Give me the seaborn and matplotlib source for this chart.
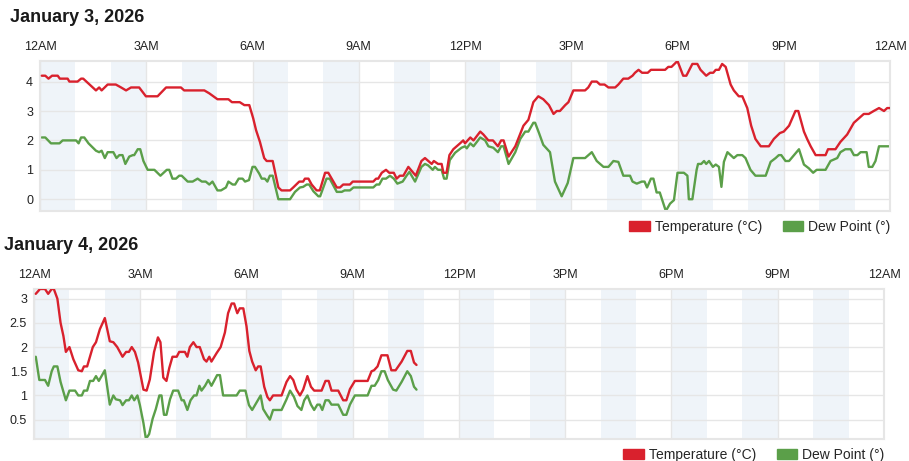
import pandas as pd
import matplotlib
matplotlib.use("Agg")
import matplotlib.pyplot as plt
from matplotlib.patches import Patch
import seaborn as sns

# January 3 - temperature (hour of day, °C)
jan3_temp_hours = [0.05, 0.15, 0.24, 0.34, 0.5, 0.56, 0.78, 0.83, 1.06, 1.16, 1.22, 1.58, 1.67, 1.74, 1.91, 2.14,
                   2.29, 2.43, 2.57, 2.8, 2.99, 3.32, 3.56, 3.98, 4.07, 4.64, 4.78, 5.01, 5.32, 5.42, 5.64, 5.77,
                   5.91, 6.02, 6.1, 6.21, 6.33, 6.4, 6.57, 6.73, 6.82, 7.06, 7.15, 7.32, 7.43, 7.48, 7.58, 7.67,
                   7.81, 7.9, 8.05, 8.14, 8.38, 8.47, 8.56, 8.75, 8.83, 9.41, 9.49, 9.55, 9.65, 9.77, 9.86, 9.99,
                   10.07, 10.16, 10.26, 10.4, 10.54, 10.61, 10.77, 10.87, 11.06, 11.12, 11.24, 11.34, 11.39, 11.48,
                   11.56, 11.67, 11.86, 11.95, 12.0, 12.15, 12.24, 12.43, 12.52, 12.66, 12.79, 12.93, 13.02, 13.09,
                   13.23, 13.42, 13.65, 13.79, 13.93, 14.07, 14.21, 14.37, 14.5, 14.59, 14.68, 14.83, 14.92, 15.06,
                   15.39, 15.48, 15.58, 15.72, 15.81, 15.94, 16.05, 16.24, 16.33, 16.47, 16.61, 16.73, 16.8, 16.9,
                   17.0, 17.16, 17.25, 17.65, 17.74, 17.83, 18.0, 18.16, 18.25, 18.42, 18.56, 18.65, 18.81, 18.92,
                   19.01, 19.08, 19.17, 19.26, 19.36, 19.5, 19.59, 19.73, 19.83, 19.97, 20.08, 20.2, 20.35, 20.58,
                   20.72, 20.89, 21.0, 21.15, 21.33, 21.41, 21.57, 21.66, 21.76, 21.9, 22.18, 22.25, 22.46, 22.6,
                   22.79, 22.98, 23.26, 23.4, 23.54, 23.69, 23.83, 23.92, 24.0]
jan3_temp = [4.2, 4.2, 4.1, 4.2, 4.2, 4.1, 4.1, 4.0, 4.0, 4.1, 4.1, 3.7, 3.8, 3.7, 3.9, 3.9,
             3.8, 3.7, 3.8, 3.8, 3.5, 3.5, 3.8, 3.8, 3.7, 3.7, 3.6, 3.4, 3.4, 3.3, 3.3, 3.2,
             3.2, 2.75, 2.35, 1.95, 1.4, 1.3, 1.3, 0.4, 0.3, 0.3, 0.4, 0.6, 0.6, 0.7, 0.7, 0.5,
             0.3, 0.3, 0.9, 0.9, 0.4, 0.4, 0.5, 0.5, 0.6, 0.6, 0.7, 0.7, 0.9, 1.0, 0.9, 0.9,
             0.7, 0.8, 0.8, 1.1, 0.9, 0.8, 1.3, 1.4, 1.2, 1.3, 1.2, 1.2, 0.9, 0.9,
             1.5, 1.7, 1.9, 2.0, 1.9, 2.1, 2.0, 2.3, 2.2, 2.0, 2.0, 1.8, 2.0, 2.0,
             1.45, 1.8, 2.5, 2.7, 3.3, 3.5, 3.4, 3.2, 2.9, 3.0, 3.0, 3.2, 3.3, 3.7,
             3.7, 3.8, 4.0, 4.0, 3.9, 3.9, 3.8, 3.8, 3.9, 4.1, 4.1, 4.2, 4.3, 4.4,
             4.3, 4.3, 4.4, 4.4, 4.5, 4.5, 4.7, 4.2, 4.2, 4.6, 4.6, 4.4, 4.2, 4.3,
             4.3, 4.4, 4.4, 4.6, 4.5, 3.9, 3.7, 3.5, 3.5, 3.1, 2.5, 2.05, 1.8, 1.8,
             2.05, 2.25, 2.3, 2.5, 3.0, 3.0, 2.3, 2.05, 1.8, 1.5, 1.5, 1.7, 1.7, 1.95,
             2.2, 2.6, 2.9, 2.9, 3.0, 3.1, 3.0, 3.1, 3.1]

# January 3 - dew point
jan3_dew_hours = [0.05, 0.15, 0.31, 0.55, 0.64, 1.02, 1.09, 1.16, 1.25, 1.37, 1.58, 1.67, 1.74, 1.83, 1.91, 2.07,
                  2.16, 2.24, 2.33, 2.41, 2.52, 2.62, 2.66, 2.76, 2.83, 2.92, 3.04, 3.23, 3.4, 3.58, 3.65, 3.74,
                  3.84, 3.93, 4.0, 4.17, 4.31, 4.45, 4.57, 4.68, 4.78, 4.87, 5.01, 5.11, 5.25, 5.32, 5.44, 5.51,
                  5.61, 5.72, 5.79, 5.9, 6.0, 6.07, 6.19, 6.26, 6.35, 6.42, 6.49, 6.57, 6.73, 7.06, 7.2, 7.34,
                  7.43, 7.53, 7.6, 7.72, 7.86, 7.91, 8.09, 8.18, 8.38, 8.52, 8.6, 8.75, 8.85, 9.41, 9.5, 9.58,
                  9.67, 9.77, 9.88, 9.99, 10.09, 10.24, 10.35, 10.43, 10.59, 10.77, 10.87, 10.96, 11.09, 11.15,
                  11.24, 11.34, 11.41, 11.48, 11.57, 11.72, 11.9, 12.0, 12.05, 12.15, 12.24, 12.43, 12.57, 12.66,
                  12.8, 12.93, 13.02, 13.09, 13.23, 13.42, 13.56, 13.7, 13.79, 13.93, 13.98, 14.09, 14.21, 14.4,
                  14.54, 14.73, 14.9, 15.06, 15.39, 15.58, 15.72, 15.91, 16.05, 16.19, 16.33, 16.47, 16.66, 16.73,
                  16.85, 16.99, 17.07, 17.14, 17.25, 17.32, 17.41, 17.5, 17.67, 17.79, 17.9, 18.0, 18.18, 18.28,
                  18.32, 18.42, 18.54, 18.58, 18.67, 18.75, 18.81, 18.89, 19.0, 19.08, 19.17, 19.24, 19.31, 19.41,
                  19.5, 19.59, 19.69, 19.83, 19.92, 20.06, 20.2, 20.49, 20.63, 20.77, 20.86, 20.93, 21.05, 21.15,
                  21.43, 21.57, 21.71, 21.83, 21.93, 22.18, 22.32, 22.51, 22.6, 22.74, 22.89, 22.98, 23.08, 23.17,
                  23.34, 23.4, 23.5, 23.59, 23.69, 24.0]
jan3_dew = [2.1, 2.1, 1.9, 1.9, 2.0, 2.0, 1.9, 2.1, 2.1, 1.9, 1.65, 1.6, 1.65, 1.4, 1.6, 1.6,
            1.4, 1.5, 1.5, 1.2, 1.45, 1.5, 1.5, 1.7, 1.7, 1.3, 1.0, 1.0, 0.8, 1.0, 1.0, 0.7,
            0.7, 0.8, 0.8, 0.6, 0.6, 0.7, 0.6, 0.6, 0.5, 0.6, 0.3, 0.3, 0.4, 0.6, 0.5, 0.5,
            0.7, 0.7, 0.6, 0.65, 1.1, 1.1, 0.87, 0.7, 0.7, 0.6, 0.8, 0.8, 0.0, 0.0, 0.25, 0.4,
            0.42, 0.5, 0.5, 0.27, 0.1, 0.1, 0.7, 0.7, 0.25, 0.25, 0.3, 0.3, 0.4, 0.4, 0.5, 0.5,
            0.7, 0.7, 0.8, 0.7, 0.53, 0.6, 0.8, 0.93, 0.6, 1.1, 1.2, 1.15, 1.0, 1.1,
            1.0, 1.0, 0.7, 0.7, 1.33, 1.58, 1.75, 1.8, 1.73, 1.9, 1.8, 2.1, 2.0, 1.8,
            1.75, 1.6, 1.8, 1.8, 1.2, 1.6, 2.05, 2.3, 2.3, 2.6, 2.6, 2.25, 1.85, 1.6,
            0.6, 0.1, 0.55, 1.4, 1.4, 1.6, 1.3, 1.1, 1.1, 1.3, 1.27, 0.8, 0.8, 0.6,
            0.53, 0.6, 0.6, 0.4, 0.7, 0.7, 0.23, 0.23, -0.4, -0.15, -0.03, 0.9, 0.9, 0.8,
            0.0, 0.0, 1.0, 1.2, 1.2, 1.3, 1.2, 1.3, 1.1, 1.18, 1.1, 0.42, 1.27, 1.6,
            1.5, 1.4, 1.5, 1.5, 1.4, 1.0, 0.8, 0.8, 1.27, 1.4, 1.5, 1.5, 1.3, 1.3,
            1.7, 1.18, 1.05, 0.9, 1.0, 1.0, 1.3, 1.4, 1.6, 1.7, 1.7, 1.5, 1.5, 1.6,
            1.6, 1.1, 1.1, 1.3, 1.8, 1.8]

# January 4 - temperature
jan4_temp_hours = [0.05, 0.17, 0.31, 0.4, 0.5, 0.56, 0.66, 0.75, 0.83, 0.9, 1.0, 1.11, 1.25, 1.35, 1.41, 1.5,
                   1.66, 1.75, 1.86, 1.94, 2.0, 2.14, 2.24, 2.35, 2.5, 2.6, 2.68, 2.76, 2.85, 2.94, 3.09, 3.18,
                   3.27, 3.39, 3.5, 3.57, 3.65, 3.74, 3.82, 3.91, 4.03, 4.1, 4.26, 4.33, 4.4, 4.5, 4.59, 4.68,
                   4.8, 4.87, 4.95, 5.01, 5.16, 5.27, 5.39, 5.48, 5.58, 5.65, 5.74, 5.81, 5.91, 6.0, 6.08, 6.16,
                   6.26, 6.33, 6.4, 6.5, 6.59, 6.66, 6.75, 6.99, 7.13, 7.23, 7.32, 7.41, 7.51, 7.6, 7.72, 7.82,
                   7.91, 8.12, 8.23, 8.32, 8.4, 8.59, 8.73, 8.82, 8.92, 9.06, 9.42, 9.53, 9.6, 9.7, 9.81, 9.98,
                   10.09, 10.21, 10.38, 10.54, 10.64, 10.73, 10.8]
jan4_temp = [3.1, 3.2, 3.2, 3.1, 3.2, 3.2, 3.0, 2.5, 2.23, 1.9, 2.0, 1.75, 1.52, 1.5, 1.6, 1.6,
             2.0, 2.1, 2.37, 2.5, 2.6, 2.12, 2.1, 2.0, 1.8, 1.9, 1.9, 2.0, 1.9, 1.68, 1.12, 1.1,
             1.33, 1.9, 2.2, 2.1, 1.37, 1.3, 1.57, 1.8, 1.8, 1.9, 1.9, 1.8, 2.0, 2.1, 2.0, 2.0,
             1.75, 1.7, 1.8, 1.7, 1.88, 2.0, 2.3, 2.7, 2.9, 2.9, 2.7, 2.8, 2.8, 2.43, 1.92, 1.7,
             1.52, 1.6, 1.6, 1.18, 0.97, 0.9, 1.0, 1.0, 1.28, 1.4, 1.32, 1.12, 1.0, 1.12, 1.4, 1.18,
             1.1, 1.1, 1.3, 1.3, 1.1, 1.1, 0.9, 0.9, 1.13, 1.3, 1.3, 1.5, 1.52, 1.6, 1.83, 1.83,
             1.52, 1.52, 1.7, 1.92, 1.92, 1.68, 1.63]

# January 4 - dew point
jan4_dew_hours = [0.05, 0.15, 0.31, 0.4, 0.5, 0.56, 0.66, 0.75, 0.9, 1.0, 1.16, 1.25, 1.35, 1.41, 1.5, 1.58,
                  1.67, 1.75, 1.83, 2.0, 2.14, 2.24, 2.31, 2.43, 2.5, 2.6, 2.68, 2.76, 2.83, 2.92, 2.99, 3.09,
                  3.16, 3.25, 3.35, 3.44, 3.54, 3.6, 3.67, 3.74, 3.84, 3.93, 4.07, 4.17, 4.23, 4.33, 4.42, 4.52,
                  4.59, 4.67, 4.73, 4.83, 4.92, 5.01, 5.17, 5.25, 5.34, 5.72, 5.81, 5.97, 6.07, 6.16, 6.4, 6.47,
                  6.57, 6.66, 6.75, 6.99, 7.13, 7.23, 7.34, 7.44, 7.55, 7.63, 7.72, 7.82, 7.91, 8.0, 8.07, 8.14,
                  8.23, 8.32, 8.4, 8.59, 8.73, 8.82, 8.92, 9.06, 9.42, 9.53, 9.62, 9.72, 9.81, 9.9, 9.99, 10.14,
                  10.23, 10.38, 10.54, 10.64, 10.73, 10.8]
jan4_dew = [1.8, 1.32, 1.32, 1.2, 1.5, 1.6, 1.6, 1.28, 0.9, 1.1, 1.1, 1.0, 1.0, 1.1, 1.1, 1.3,
            1.3, 1.4, 1.3, 1.52, 0.81, 1.0, 0.92, 0.9, 0.8, 0.9, 0.9, 1.0, 0.9, 1.0, 0.8, 0.43,
            0.1, 0.2, 0.52, 0.72, 1.0, 1.0, 0.6, 0.6, 0.92, 1.1, 1.1, 0.9, 0.9, 0.7, 0.9, 1.0,
            1.0, 1.2, 1.1, 1.2, 1.32, 1.2, 1.42, 1.42, 1.0, 1.0, 1.1, 1.1, 0.8, 0.7, 1.0, 0.72,
            0.6, 0.5, 0.7, 0.7, 0.92, 1.1, 0.97, 0.78, 0.7, 0.9, 1.0, 0.81, 0.7, 0.81, 0.81, 0.7,
            0.9, 0.9, 0.81, 0.81, 0.6, 0.6, 0.81, 1.0, 1.0, 1.2, 1.2, 1.32, 1.5, 1.5, 1.32, 1.12,
            1.1, 1.28, 1.5, 1.4, 1.18, 1.12]

hour_ticks = [0, 3, 6, 9, 12, 15, 18, 21, 24]
hour_labels = ['12AM', '3AM', '6AM', '9AM', '12PM', '3PM', '6PM', '9PM', '12AM']

RED = '#d9212d'
GREEN = '#5b9f49'
BAND = '#eff4f9'
GRID = '#e6e6e6'

sns.set_style("white")
plt.rcParams['font.family'] = ['Liberation Sans', 'DejaVu Sans']

fig = plt.figure(figsize=(9.09, 4.61), dpi=100)
ax1 = fig.add_axes([40 / 909, 1 - 211 / 461, 850 / 909, 150 / 461])
ax2 = fig.add_axes([34 / 909, 1 - 439 / 461, 850 / 909, 150 / 461])


def draw_day(ax, temp_h, temp, dew_h, dew, ylim, yticks, ylabels):
    # alternate hour shading
    for h in range(0, 24, 2):
        ax.axvspan(h, h + 1, color=BAND, lw=0, zorder=0)
    t = pd.DataFrame({'hour': temp_h, 'value': temp})
    d = pd.DataFrame({'hour': dew_h, 'value': dew})
    sns.lineplot(data=t, x='hour', y='value', ax=ax, color=RED, linewidth=1.7, zorder=3)
    sns.lineplot(data=d, x='hour', y='value', ax=ax, color=GREEN, linewidth=1.7, zorder=2)
    ax.set_xlim(0, 24)
    ax.set_ylim(*ylim)
    ax.set_xticks(hour_ticks)
    ax.set_xticklabels(hour_labels)
    ax.xaxis.tick_top()
    ax.set_yticks(yticks)
    ax.set_yticklabels(ylabels)
    ax.tick_params(axis='x', length=0, labelsize=9, colors='#222222', pad=6)
    ax.tick_params(axis='y', length=0, labelsize=9, colors='#222222', pad=5)
    ax.grid(True, color=GRID, lw=1)
    ax.set_axisbelow(True)
    for s in ax.spines.values():
        s.set_color(GRID)
        s.set_linewidth(1.5)
    ax.set_xlabel('')
    ax.set_ylabel('')
    handles = [Patch(color=RED, label='Temperature (°C)'), Patch(color=GREEN, label='Dew Point (°)')]
    ax.legend(handles=handles, loc='center right', bbox_to_anchor=(1.0, -0.107), ncol=2, frameon=False,
              fontsize=10, handlelength=1.45, handleheight=0.72, columnspacing=1.5, handletextpad=0.36,
              borderaxespad=0, borderpad=0)


draw_day(ax1, jan3_temp_hours, jan3_temp, jan3_dew_hours, jan3_dew,
         (-0.4, 4.7), [0, 1, 2, 3, 4], ['0', '1', '2', '3', '4'])
draw_day(ax2, jan4_temp_hours, jan4_temp, jan4_dew_hours, jan4_dew,
         (0.1, 3.2), [0.5, 1, 1.5, 2, 2.5, 3], ['0.5', '1', '1.5', '2', '2.5', '3'])

fig.text(10 / 909, 1 - 18 / 461, 'January 3, 2026', fontsize=13, fontweight='bold', va='center', color='#1a1a1a')
fig.text(4 / 909, 1 - 245 / 461, 'January 4, 2026', fontsize=13, fontweight='bold', va='center', color='#1a1a1a')

fig.savefig('out.png', dpi=100)
